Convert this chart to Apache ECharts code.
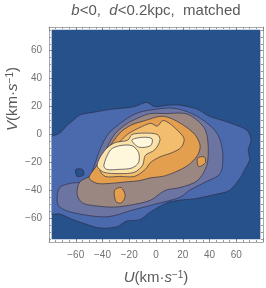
<!DOCTYPE html>
<html><head><meta charset="utf-8">
<script src="https://cdn.jsdelivr.net/npm/echarts@6/dist/echarts.min.js"></script>
<style>html,body{margin:0;padding:0;background:#fff}#c{width:266px;height:288px}</style>
</head><body><div id="c"></div>
<script>
// ---- data (U, V in km/s) ----
const xTicks = [-60, -40, -20, 0, 20, 40, 60];
const yTicks = [-60, -40, -20, 0, 20, 40, 60];
const yMinorTicks = [-75,-70,-65,-55,-50,-45,-35,-30,-25,-15,-10,-5,5,10,15,25,30,35,45,50,55,65,70,75];
const plotU = [-78, 78];
const plotV = [-75, 75];

// contour level regions (outer -> inner)
const level0 = [[-82,-80],[82,-80],[82,80],[-82,80]];
const level1 = [[-82,-4],[-72,1],[-66,7],[-62,10],[-57,14],[-46,16],[-34,18],[-23,19],[-16,20],[-7,23],[-1,20],[9,21],[18,21],[31,18],[40,13],[50,10],[59,7],[68,3],[71,-4],[69,-11],[70,-18],[67,-24],[63,-31],[55,-40],[44,-43],[29,-46],[18,-47],[8,-49],[-5,-56],[-12,-61],[-22,-62],[-29,-66],[-42,-67],[-53,-64],[-62,-61],[-72,-57],[-82,-56]];
const hole0 = [[-60,-25],[-55,-25],[-54,-29],[-59,-30]];
const level2 = [[-74,-47],[-72,-38],[-64,-35],[-51,-33],[-46,-22],[-42,-11],[-36,0],[-28,7],[-19,13],[-12,16],[-1,18],[10,19],[18,18],[29,14],[37,9],[44,3],[48,-4],[50,-15],[48,-28],[37,-34],[25,-40],[18,-45],[3,-49],[-17,-54],[-37,-59],[-62,-56],[-72,-52]];
const level3 = [[-59,-43],[-57,-34],[-48,-29],[-42,-20],[-37,-10],[-31,0],[-23,7],[-13,12],[-4,15],[7,15],[22,15],[31,10],[37,3],[39,-8],[38,-22],[31,-33],[18,-38],[7,-40],[-4,-47],[-16,-50],[-31,-52],[-46,-51],[-55,-49]];
const level4 = [[-50,-31],[-44,-22],[-38,-13],[-32,-5],[-26,2],[-18,7],[-8,10],[3,13],[10,12],[20,7],[29,0],[33,-8],[31,-15],[24,-22],[14,-27],[5,-30],[-4,-31],[-12,-33],[-23,-34],[-34,-35],[-44,-35]];
const level4b = [[-31,-40],[-26,-38],[-23,-44],[-26,-49],[-30,-48]];
const level4c = [[31,-17],[36,-16],[37,-20],[32,-23]];
const level5 = [[-42,-25],[-38,-17],[-32,-10],[-26,-4],[-20,1],[-12,5],[-4,8],[1,6],[5,10],[10,8],[16,3],[21,-3],[19,-9],[12,-13],[3,-16],[-4,-20],[-8,-25],[-16,-30],[-27,-30],[-38,-30]];
const level6 = [[-44,-22],[-38,-11],[-31,-6],[-21,-4],[-18,0],[-8,1],[1,0],[3,-4],[-1,-11],[-8,-15],[-10,-22],[-16,-27],[-27,-28],[-39,-27]];
const level7 = [[-39,-22],[-34,-11],[-27,-8],[-18,-8],[-13,-13],[-13,-20],[-18,-24],[-28,-25],[-37,-25]];
const level7b = [[-18,-4],[-10,-2],[-3,-3],[-4,-8],[-13,-9]];

const regions = [
  {level:0, pts:level0, edge:false},
  {level:1, pts:level1, edge:true},
  {level:0, pts:hole0, edge:true},
  {level:2, pts:level2, edge:true},
  {level:3, pts:level3, edge:true},
  {level:4, pts:level4, edge:true},
  {level:4, pts:level4b, edge:true},
  {level:4, pts:level4c, edge:true},
  {level:5, pts:level5, edge:true},
  {level:6, pts:level6, edge:true},
  {level:7, pts:level7, edge:true},
  {level:7, pts:level7b, edge:true}
];

// ---- styles ----
const levelColors = ['#26518a','#4a6aad','#6c74a2','#9a8781','#e39e4e','#f2bd6c','#fbe3a8','#fff7dc'];
const FONT = "'Liberation Sans', Arial, sans-serif";
const frameColor = '#a8a8a8';
const labelColor = '#707070';
const textColor = '#5a5a5a';

const chart = echarts.init(document.getElementById('c'), null, {renderer:'canvas'});
const minus = v => String(v).replace('-', '\u2212');

const yMajorAxis = (pos, labels) => ({
  type:'value', position:pos, min:-77, max:77,
  axisLine:{show:true, onZero:false, lineStyle:{color:frameColor, width:1}},
  axisTick:{show:true, inside:true, length:4, customValues:yTicks, lineStyle:{color:'#888'}},
  axisLabel:{show:labels, customValues:yTicks, formatter:minus, color:labelColor, fontSize:10, fontFamily:FONT, margin:7},
  splitLine:{show:false}
});
const yMinorAxis = (pos) => ({
  type:'value', position:pos, min:-77, max:77,
  axisLine:{show:false, onZero:false},
  axisTick:{show:true, inside:true, length:2, customValues:yMinorTicks, lineStyle:{color:'#999'}},
  axisLabel:{show:false},
  splitLine:{show:false}
});
const xAxisDef = (pos, labels) => ({
  type:'value', position:pos, min:-80, max:80, interval:20,
  axisLine:{show:true, onZero:false, lineStyle:{color:frameColor, width:1}},
  axisTick:{show:true, inside:true, length:4, lineStyle:{color:'#888'}},
  minorTick:{show:true, splitNumber:4, length:2, lineStyle:{color:'#999'}},
  axisLabel:{show:labels, customValues:xTicks, formatter:minus, color:labelColor, fontSize:10, fontFamily:FONT, margin:8},
  splitLine:{show:false}
});

const unitLabel = (sym) => ({
  text:'{i|' + sym + '}{n|(km·}{i|s}{s|\u22121}{n|)}', align:'center', verticalAlign:'middle',
  fill:textColor, fontSize:15, fontFamily:FONT,
  rich:{
    i:{fontStyle:'italic', fill:textColor, fontSize:15, fontFamily:FONT},
    n:{fill:textColor, fontSize:15, fontFamily:FONT},
    s:{fill:textColor, fontSize:10, fontFamily:FONT, verticalAlign:'top'}
  }
});

const option = {
  animation:false,
  backgroundColor:'#ffffff',
  grid:{left:49, top:27, width:214, height:215},
  xAxis:[xAxisDef('bottom', true), xAxisDef('top', false)],
  yAxis:[yMajorAxis('left', true), yMinorAxis('left'), yMajorAxis('right', false), yMinorAxis('right')],
  series:[{
    type:'custom',
    coordinateSystem:'cartesian2d',
    xAxisIndex:0, yAxisIndex:0,
    data: regions.map((r, i) => [0, 0]),
    renderItem: function(params, api) {
      const r = regions[params.dataIndex];
      const pts = r.pts.map(p => api.coord(p));
      const tl = api.coord([plotU[0], plotV[1]]);
      const br = api.coord([plotU[1], plotV[0]]);
      return {
        type:'polygon',
        shape:{points:pts, smooth: r.edge ? 0.3 : 0},
        style:{fill: levelColors[r.level], stroke: r.edge ? 'rgba(45,45,70,0.75)' : null, lineWidth: r.edge ? 0.9 : 0},
        clipPath:{type:'rect', shape:{x:tl[0], y:tl[1], width:br[0]-tl[0], height:br[1]-tl[1]}}
      };
    }
  }],
  graphic:[
    {type:'text', x:156, y:11, style:{
      text:'{i|b}<0,  {i|d}<0.2kpc,  matched', align:'center', verticalAlign:'middle',
      fill:textColor, fontSize:15, fontFamily:FONT,
      rich:{i:{fontStyle:'italic', fill:textColor, fontSize:15, fontFamily:FONT}}
    }},
    {type:'text', x:156, y:278, style:unitLabel('U')},
    {type:'text', x:13, y:99, rotation:Math.PI/2, style:unitLabel('V')}
  ]
};
chart.setOption(option);
</script>
</body></html>
